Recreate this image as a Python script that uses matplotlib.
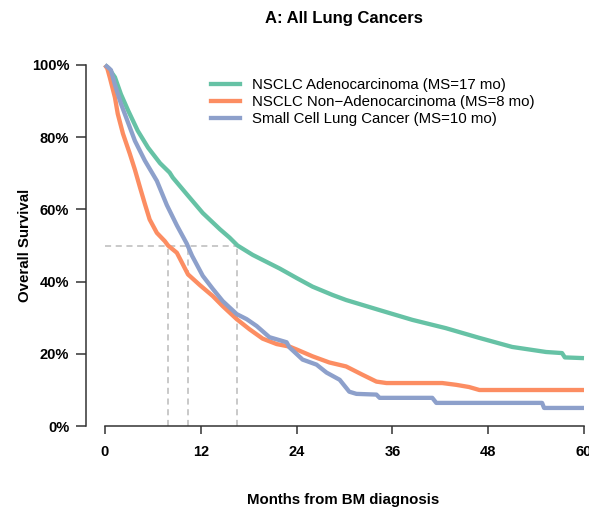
import matplotlib
matplotlib.use("Agg")
import matplotlib.pyplot as plt
from matplotlib.lines import Line2D

plt.rcParams['font.family'] = ['Liberation Sans', 'DejaVu Sans']

# ---- data ----
adeno_t = [0, 0.5, 1.25, 2, 2.9, 4.1, 5.4, 6.9, 8.1, 8.5, 10.25, 12.25, 14.4, 15.6, 16.6,
           18.5, 21.9, 24, 26, 28.5, 30.2, 34.4, 38.5, 42.7, 46.9, 51, 55.25, 57.25, 57.6, 60]
adeno_s = [1.0, 0.99, 0.966, 0.919, 0.874, 0.818, 0.771, 0.728, 0.702, 0.688, 0.642, 0.59, 0.545, 0.522, 0.50,
           0.474, 0.436, 0.41, 0.386, 0.363, 0.349, 0.321, 0.294, 0.271, 0.244, 0.219, 0.205, 0.202, 0.19, 0.188]

nonadeno_t = [0, 0.3, 0.6, 1.25, 1.6, 2.25, 3.1, 3.75, 4.4, 5.0, 5.6, 6.5, 7.5, 7.9, 9.0, 9.4, 10.4,
              11.9, 13.5, 14.75, 16.5, 18.1, 19.75, 21.5, 23.1, 24, 26, 28.1, 30.2, 32.25, 34, 35.25,
              42.25, 44, 45.6, 46.9, 60]
nonadeno_s = [1.0, 0.99, 0.966, 0.91, 0.865, 0.81, 0.755, 0.71, 0.66, 0.615, 0.572, 0.535, 0.512, 0.50, 0.48, 0.463, 0.42,
              0.39, 0.36, 0.332, 0.296, 0.268, 0.242, 0.227, 0.22, 0.212, 0.193, 0.176, 0.165, 0.142, 0.123, 0.119,
              0.119, 0.114, 0.108, 0.0997, 0.0997]

sclc_t = [0, 0.3, 0.75, 1.25, 2, 2.9, 3.75, 5.0, 6.5, 7.75, 9.0, 10.25, 10.9, 12.25, 13.5, 14.75, 16.5,
          17.75, 19, 20.6, 22.75, 23.1, 24.75, 26.5, 27.75, 29.4, 30.6, 31.5, 34, 34.4, 41, 41.5, 54.75, 55, 60]
sclc_s = [1.0, 0.995, 0.986, 0.945, 0.893, 0.84, 0.79, 0.735, 0.679, 0.612, 0.556, 0.505, 0.472, 0.416, 0.38, 0.346, 0.31,
          0.296, 0.277, 0.246, 0.232, 0.218, 0.184, 0.17, 0.148, 0.128, 0.095, 0.089, 0.087, 0.078, 0.078, 0.064, 0.064, 0.05, 0.05]

medians = [7.9, 10.4, 16.6]

labels = ["NSCLC Adenocarcinoma (MS=17 mo)",
          "NSCLC Non\u2212Adenocarcinoma (MS=8 mo)",
          "Small Cell Lung Cancer (MS=10 mo)"]
colors = ["#66C2A5", "#FC8D62", "#8DA0CB"]

x_ticks = [0, 12, 24, 36, 48, 60]
y_ticks = [0, 0.2, 0.4, 0.6, 0.8, 1.0]
y_ticklabels = ["0%", "20%", "40%", "60%", "80%", "100%"]

# ---- figure ----
W, H = 589, 512
fig = plt.figure(figsize=(W / 100, H / 100), dpi=100)
ax = fig.add_axes([86 / W, (H - 426) / H, (584 - 86) / W, (426 - 65) / H])
ax.set_xlim(-19 / 8, 60)
ax.set_ylim(0, 1)

# median reference lines
dash_kw = dict(color="#BBBBBB", lw=1.1, ls=(0, (4, 3)), zorder=1)
ax.plot([0, max(medians)], [0.5, 0.5], **dash_kw)
for m in medians:
    ax.plot([m, m], [0, 0.5], **dash_kw)

lw = 3.1
for t, s, c in zip([adeno_t, nonadeno_t, sclc_t], [adeno_s, nonadeno_s, sclc_s], colors):
    ax.plot(t, s, color=c, lw=lw, solid_capstyle='butt', solid_joinstyle='round', clip_on=False, zorder=3)

# spines
for side in ["top", "right"]:
    ax.spines[side].set_visible(False)
ax.spines["left"].set_bounds(0, 1)
ax.spines["bottom"].set_bounds(0, 60)
for side in ["left", "bottom"]:
    ax.spines[side].set_color("#333333")
    ax.spines[side].set_linewidth(1.1)

ax.set_xticks(x_ticks)
ax.set_xticklabels([str(v) for v in x_ticks])
ax.set_yticks(y_ticks)
ax.set_yticklabels(y_ticklabels)
ax.tick_params(axis="y", length=7, width=1.1, color="#333333", pad=5, labelsize=10.5)
ax.tick_params(axis="x", length=6, width=1.1, color="#333333", pad=8, labelsize=10.5)
for lab in ax.get_xticklabels() + ax.get_yticklabels():
    lab.set_fontweight("bold")

# legend
handles = [Line2D([], [], color=c, lw=lw) for c in colors]
ax.legend(handles, labels, loc="upper left", bbox_to_anchor=(211 / W, 1 - 78 / H),
          bbox_transform=fig.transFigure, frameon=False, fontsize=10.8,
          borderpad=0, borderaxespad=0, handlelength=1.9, handletextpad=0.85,
          labelspacing=0.2)

fig.text(344 / W, 1 - 18 / H, "A: All Lung Cancers", ha="center", va="center",
         fontsize=12, fontweight="bold")
fig.text(343 / W, 1 - 500 / H, "Months from BM diagnosis", ha="center", va="center",
         fontsize=10.8, fontweight="bold")
fig.text(25 / W, 1 - 245 / H, "Overall Survival", ha="center", va="center",
         rotation=90, fontsize=10.8, fontweight="bold")

fig.savefig("out.png", dpi=100)
